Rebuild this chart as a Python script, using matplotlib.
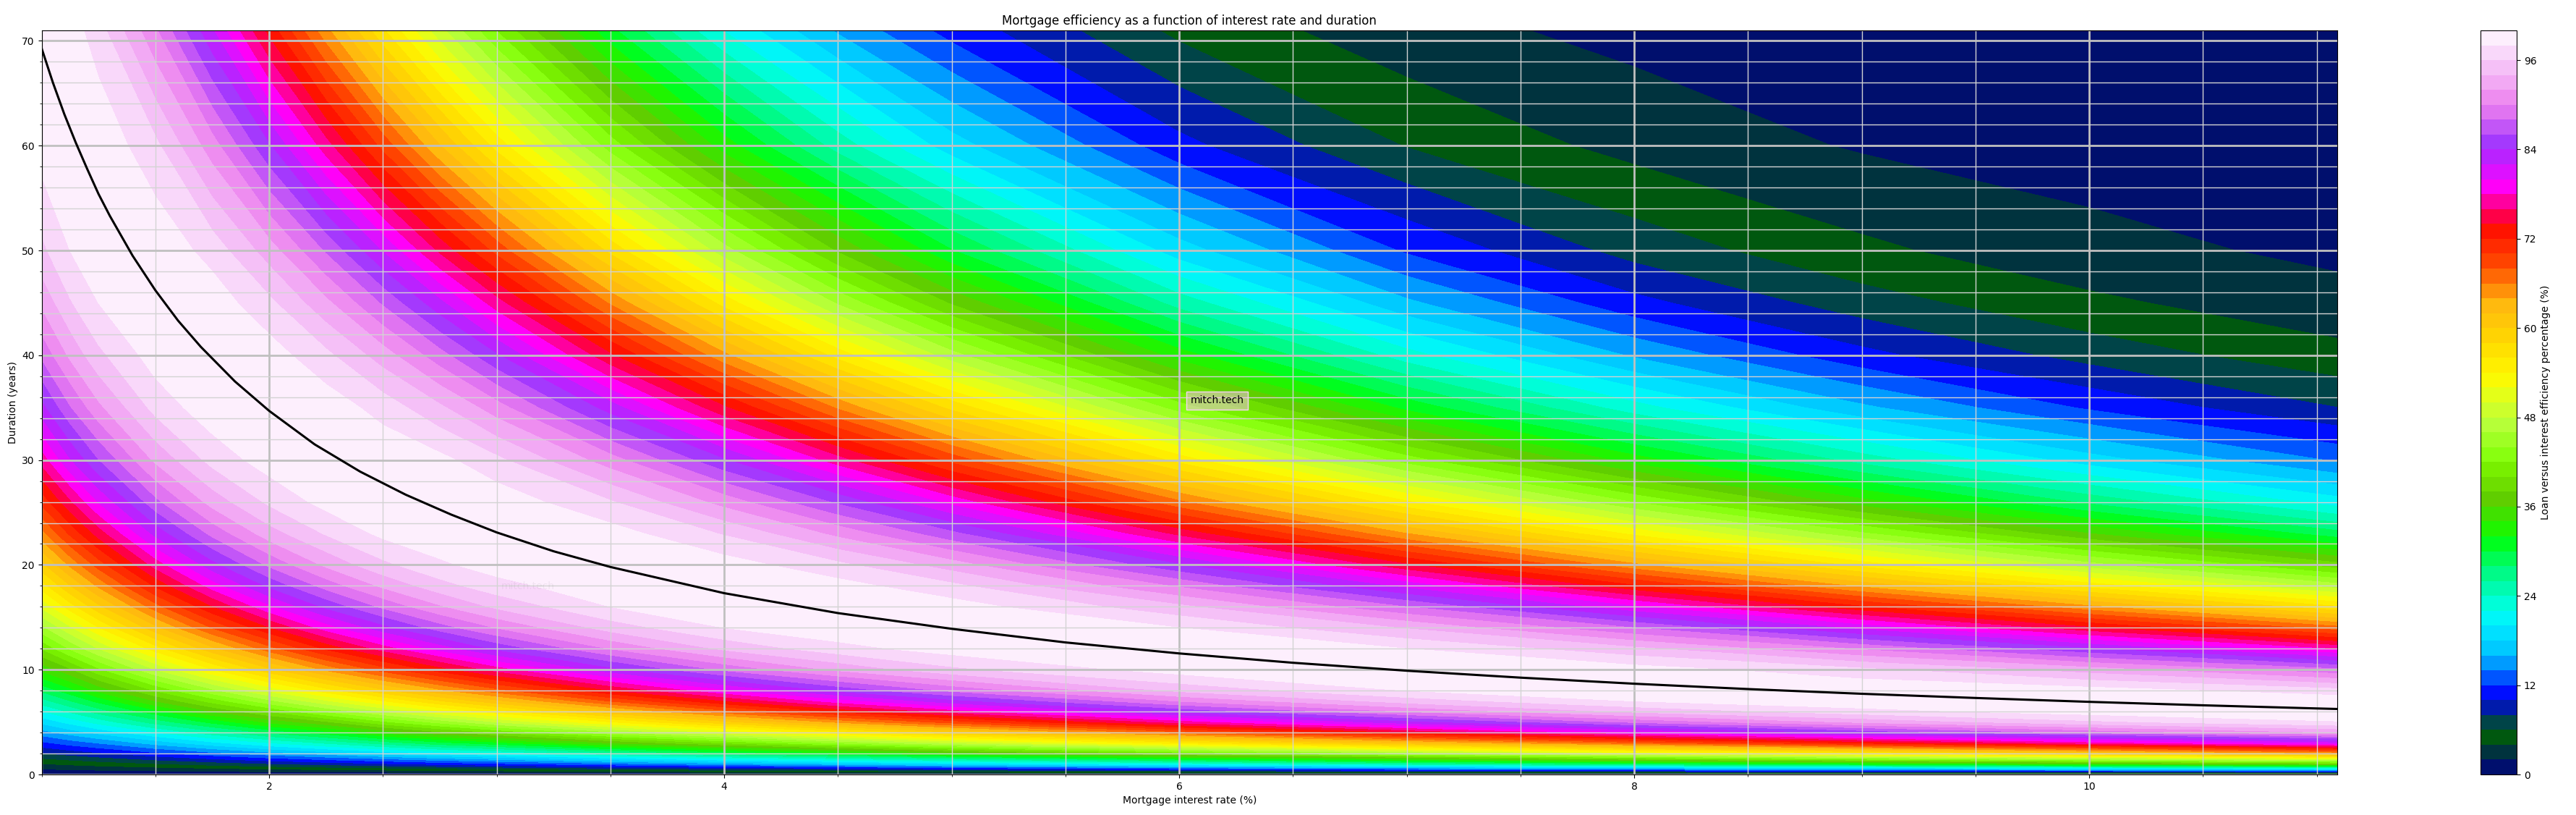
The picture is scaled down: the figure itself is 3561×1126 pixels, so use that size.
import numpy as np
import matplotlib
matplotlib.use("Agg")
import matplotlib.pyplot as plt
from matplotlib.ticker import MultipleLocator

# values, one column per interest rate
durations = [0, 1, 2, 3, 4, 5, 6, 7, 8, 10, 12, 14, 16, 18, 20, 23, 26, 30, 35, 40, 45, 50, 60, 71]
rates = [1, 1.125, 1.25, 1.5, 1.75, 2, 2.25, 2.5, 2.75, 3, 3.5, 4, 4.5, 5, 6, 7, 8, 9, 10, 11.1]

eff_r100 = [0, 3.9, 7.8, 11.5, 15.1, 18.6, 21.9, 25.2, 28.4, 34.5, 40.1, 45.4, 50.4, 55, 59.4, 65.3, 70.6, 76.8, 83.2, 88.4, 92.4, 95.5, 99, 100]
eff_r112 = [0, 4.4, 8.7, 12.9, 16.9, 20.7, 24.3, 27.9, 31.2, 37.6, 44.2, 49.6, 55, 59.9, 64.4, 70.4, 75.6, 81.8, 87.8, 92.4, 95.8, 98, 99.9, 99]
eff_r125 = [0, 4.9, 9.6, 14.1, 18.6, 22.8, 26.9, 30.6, 34.5, 41.5, 48, 53.9, 59.4, 64.4, 68.9, 74.9, 80.1, 85.9, 91.5, 95.5, 98, 99.5, 99.6, 96.9]
eff_r150 = [0, 5.8, 11.5, 16.8, 21.9, 26.9, 31.2, 36, 40.1, 48, 55, 61.4, 67.1, 72.3, 76.8, 82.6, 87.4, 92.4, 96.7, 99, 99.9, 99.6, 96.5, 90.3]
eff_r175 = [0, 6.8, 13.3, 19.4, 25.2, 30.6, 36, 40.8, 45.4, 53.9, 61.4, 68.1, 73.8, 78.9, 83.2, 88.6, 92.8, 96.7, 99.3, 100, 99.2, 97.2, 90.9, 82.2]
eff_r200 = [0, 7.8, 15.1, 21.9, 28.4, 34.5, 40.1, 45.4, 50.4, 59.4, 67.1, 73.8, 79.5, 84.4, 88.4, 93.1, 96.4, 99, 100, 99, 96.5, 93, 84.2, 73.3]
eff_r225 = [0, 8.7, 16.8, 24.3, 31.2, 37.6, 44.2, 49.6, 55, 64.4, 72.3, 78.9, 84.4, 88.8, 92.4, 96.2, 98.7, 99.9, 99.2, 96.5, 92.5, 87.7, 76.8, 64.6]
eff_r250 = [0, 9.6, 18.6, 26.9, 34.5, 41.5, 48, 53.9, 59.4, 68.9, 76.8, 83.2, 88.4, 92.4, 95.5, 98.5, 99.8, 99.6, 97.2, 93, 87.7, 81.8, 69.3, 56.3]
eff_r275 = [0, 10.6, 20.4, 29.3, 37.4, 44.7, 51.7, 57.8, 63.4, 73, 80.7, 87, 91.7, 95.2, 97.6, 99.6, 100, 98.6, 94.4, 88.8, 82.5, 75.5, 62.1, 48.7]
eff_r300 = [0, 11.5, 21.9, 31.2, 40.1, 48, 55, 61.4, 67.1, 76.8, 84.4, 90.1, 94.4, 97.2, 99, 99.9, 99.3, 96.5, 90.9, 84.2, 76.8, 69.3, 55.2, 41.9]
eff_r350 = [0, 13.3, 25.2, 36, 45.4, 53.9, 61.4, 68.1, 73.8, 83.2, 90.1, 94.9, 98, 99.6, 100, 98.9, 96.2, 90.9, 83, 74.3, 65.7, 57.4, 43, 30.5]
eff_r400 = [0, 15.1, 28.4, 40.1, 50.4, 59.4, 67.1, 73.8, 79.5, 88.4, 94.4, 98, 99.7, 99.9, 99, 95.8, 91.2, 84.2, 74.3, 64.5, 55.2, 46.8, 33, 21.9]
eff_r450 = [0, 16.8, 31.2, 44.2, 55, 64.4, 72.3, 78.9, 84.4, 92.4, 97.2, 99.6, 99.9, 98.8, 96.5, 91.4, 85.6, 76.8, 65.7, 55.2, 45.7, 37.7, 25.1, 15.7]
eff_r500 = [0, 18.6, 34.5, 48, 59.4, 68.9, 76.8, 83.2, 88.4, 95.5, 99, 100, 99, 96.5, 93, 86.5, 79.3, 69.3, 57.4, 46.8, 37.7, 30.1, 18.9, 11.2]
eff_r600 = [0, 21.9, 40.1, 55, 67.1, 76.8, 84.4, 90.1, 94.4, 99, 99.9, 98, 94.5, 89.7, 84.2, 75.3, 66.4, 55.2, 43, 33, 25.1, 18.9, 10.6, 5.5]
eff_r700 = [0, 25.2, 45.4, 61.4, 73.8, 83.2, 90.1, 94.9, 98, 100, 98, 93.8, 88, 81.3, 74.3, 64, 54.3, 43, 31.4, 22.8, 16.4, 11.7, 5.9, 2.7]
eff_r800 = [0, 28.4, 50.4, 67.1, 79.5, 88.4, 94.4, 98, 99.7, 99, 94.5, 88, 80.3, 72.3, 64.5, 53.4, 43.9, 33, 22.8, 15.7, 10.6, 7.2, 3.3, 1.4]
eff_r900 = [0, 31.2, 55, 72.3, 84.4, 92.4, 97.2, 99.6, 99.9, 96.5, 89.7, 81.3, 72.3, 63.5, 55.2, 44.3, 34.8, 25.1, 16.4, 10.6, 6.9, 4.4, 1.8, 0.67]
eff_r1000 = [0, 34.5, 59.4, 76.8, 88.4, 95.5, 99, 100, 99, 93, 84.2, 74.3, 64.5, 55.2, 46.8, 36, 27.5, 18.9, 11.7, 7.2, 4.4, 2.7, 0.99, 0.33]
eff_r1110 = [0, 37.6, 63.7, 81, 92, 97.8, 99.9, 99.4, 96.8, 88.4, 77.7, 66.7, 56.2, 46.9, 38.7, 28.7, 20.9, 13.7, 8, 4.6, 2.7, 1.5, 0.5, 0.15]

# black curve where efficiency peaks
curve_rates = [1, 1.05, 1.1, 1.15, 1.2, 1.25, 1.3, 1.4, 1.5, 1.6, 1.7, 1.85, 2, 2.2, 2.4, 2.6, 2.8, 3, 3.25, 3.5, 4, 4.5, 5, 5.5, 6, 6.5, 7, 7.5, 8, 8.5, 9, 9.5, 10, 10.5, 11, 11.09]
curve_years = [69.3, 66, 63, 60.3, 57.8, 55.4, 53.3, 49.5, 46.2, 43.3, 40.8, 37.5, 34.7, 31.5, 28.9, 26.7, 24.8, 23.1, 21.3, 19.8, 17.3, 15.4, 13.9, 12.6, 11.55, 10.66, 9.9, 9.24, 8.66, 8.15, 7.7, 7.3, 6.93, 6.6, 6.3, 6.25]

cbar_ticks = [0, 12, 24, 36, 48, 60, 72, 84, 96]

W, H = 3561, 1126
Z = np.column_stack([eff_r100, eff_r112, eff_r125, eff_r150, eff_r175, eff_r200, eff_r225,
                     eff_r250, eff_r275, eff_r300, eff_r350, eff_r400, eff_r450, eff_r500,
                     eff_r600, eff_r700, eff_r800, eff_r900, eff_r1000, eff_r1110])

fig = plt.figure(figsize=(W / 100, H / 100), dpi=100)
ax = fig.add_axes([57.5 / W, 1 - 1070 / H, (3231 - 57.5) / W, (1070 - 42) / H])
cax = fig.add_axes([3429 / W, 1 - 1070 / H, 50 / W, (1070 - 42) / H])

cs = ax.contourf(rates, durations, Z, levels=np.arange(0, 101, 2), cmap="gist_ncar")
ax.plot(curve_rates, curve_years, color="black", lw=2.2)

ax.set_xlim(1, 11.09)
ax.set_ylim(0, 71)
ax.xaxis.set_major_locator(MultipleLocator(2))
ax.xaxis.set_minor_locator(MultipleLocator(0.5))
ax.yaxis.set_major_locator(MultipleLocator(10))
ax.yaxis.set_minor_locator(MultipleLocator(2))
ax.grid(which="major", color="silver", lw=2)
ax.grid(which="minor", color="lightgray", lw=1)

ax.set_title("Mortgage efficiency as a function of interest rate and duration")
ax.set_xlabel("Mortgage interest rate (%)")
ax.set_ylabel("Duration (years)")

# watermarks
ax.text(6.05, 35.4, "mitch.tech", color="black",
        bbox=dict(facecolor=(0.98, 0.75, 0.94, 0.5), edgecolor=(0.97, 0.82, 0.96, 1)))
ax.text(3.02, 17.7, "mitch.tech", color="black", alpha=0.05)

cbar = fig.colorbar(cs, cax=cax, ticks=cbar_ticks)
cbar.set_label("Loan versus interest efficiency percentage (%)")

fig.savefig("out.png", dpi=100)
